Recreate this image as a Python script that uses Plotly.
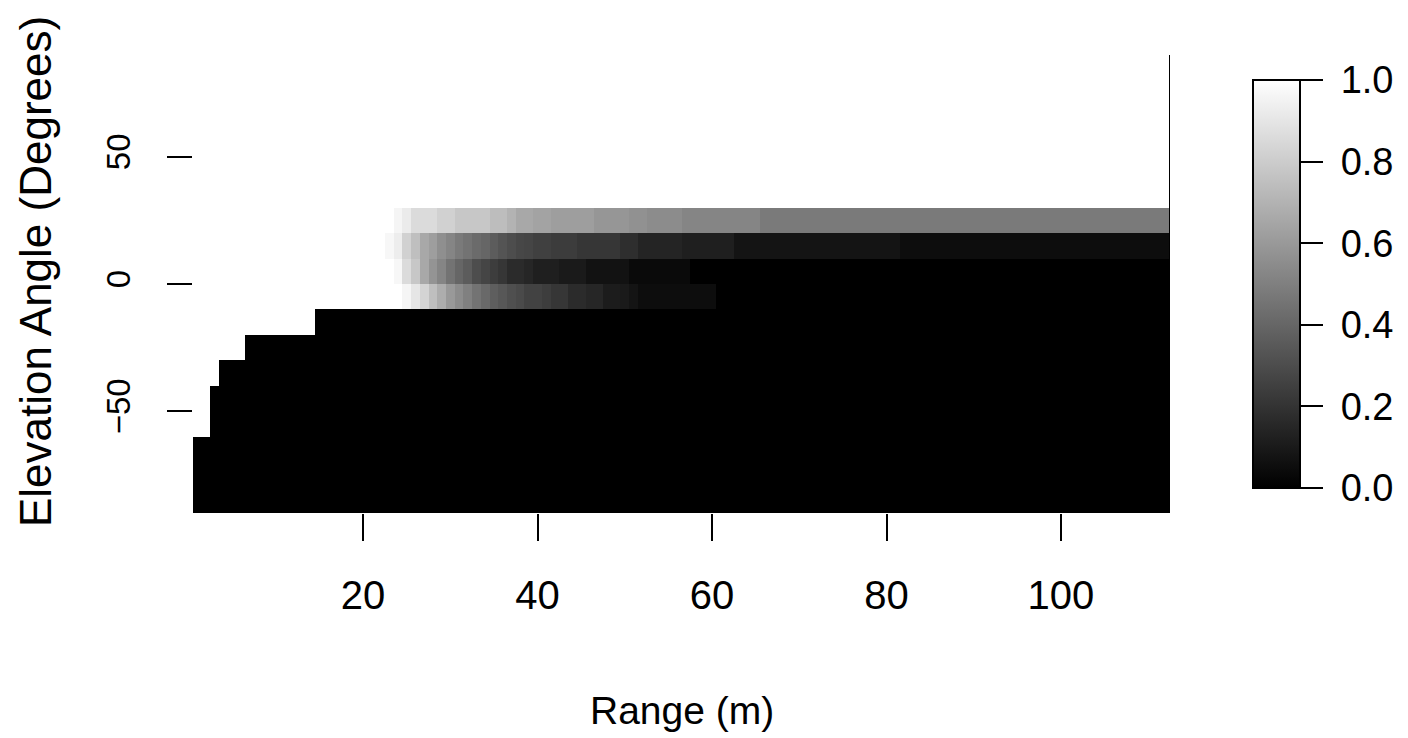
import plotly.graph_objects as go

# Grid: range bins (m) and elevation bins (degrees, centres)
range_m = list(range(1, 113))
elevation = [-85, -75, -65, -55, -45, -35, -25, -15, -5, 5, 15, 25, 35, 45, 55, 65, 75, 85]

N = None
# Elevation row 20..30 deg
row_p25 = [N, N, N, N, N, N, N, N, N, N, N, N, N, N, N, N,
           N, N, N, N, N, N, N,
           .96, .92, .86, .86, .86, .82, .82, .78, .78,
           .78, .78, .74, .74, .70, .66, .66, .64, .64, .62, .62, .62, .62, .62, .59, .59,
           .59, .59, .57, .57, .55, .55, .55, .55, .52, .52, .52, .52, .52, .52, .52, .52,
           .52,
           .48, .48, .48, .48, .48, .48, .48, .48, .48, .48, .48, .48, .48, .48, .48, .48,
           .48, .48, .48, .48, .48, .48, .48, .48, .48, .48, .48, .48, .48, .48, .48, .48,
           .48, .48, .48, .48, .48, .48, .48, .48, .48, .48, .48, .48, .48, .48, .48]
# Elevation row 10..20 deg
row_p15 = [N, N, N, N, N, N, N, N, N, N, N, N, N, N, N, N,
           N, N, N, N, N, N,
           .97, .93, .82, .75, .66, .62, .56, .52, .48, .45,
           .42, .40, .36, .33, .30, .28, .27, .25, .25, .235, .235, .235, .21, .21, .21, .21,
           .21, .18, .18, .14, .14, .14, .14, .14, .12, .12, .12, .12, .12, .12, .08, .08,
           .08, .08, .08, .08, .08, .08, .08, .08, .08, .08, .08, .08, .08, .08, .08, .08,
           .08, .05, .05, .05, .05, .05, .05, .05, .05, .05, .05, .05, .05, .05, .05, .05,
           .05, .05, .05, .05, .05, .05, .05, .05, .05, .05, .05, .05, .05, .05, .05, .05]
# Elevation row 0..10 deg
row_p5 = [N, N, N, N, N, N, N, N, N, N, N, N, N, N, N, N,
          N, N, N, N, N, N, N,
          .97, .86, .78, .66, .58, .52, .45, .40, .36,
          .30, .27, .24, .21, .17, .17, .15, .12, .12, .12, .10, .10, .10, .07, .07, .07,
          .07, .07, .04, .04, .04, .04, .04, .04, .04, 0, 0, 0, 0, 0, 0, 0,
          0, 0, 0, 0, 0, 0, 0, 0, 0, 0, 0, 0, 0, 0, 0, 0,
          0, 0, 0, 0, 0, 0, 0, 0, 0, 0, 0, 0, 0, 0, 0, 0,
          0, 0, 0, 0, 0, 0, 0, 0, 0, 0, 0, 0, 0, 0, 0, 0]
# Elevation row -10..0 deg
row_m5 = [N, N, N, N, N, N, N, N, N, N, N, N, N, N, N, N,
          N, N, N, N, N, N, N, N,
          .96, .90, .83, .75, .68, .60, .55, .50,
          .45, .41, .37, .34, .31, .29, .26, .26, .24, .21, .21, .17, .17, .15, .15, .11,
          .11, .10, .08, .05, .05, .05, .05, .05, .05, .05, .05, .05, 0, 0, 0, 0,
          0, 0, 0, 0, 0, 0, 0, 0, 0, 0, 0, 0, 0, 0, 0, 0,
          0, 0, 0, 0, 0, 0, 0, 0, 0, 0, 0, 0, 0, 0, 0, 0,
          0, 0, 0, 0, 0, 0, 0, 0, 0, 0, 0, 0, 0, 0, 0, 0]
# First range bin with data (value 0) for the low-elevation rows -85 .. -15
low_rows_first_bin = [1, 1, 1, 3, 3, 4, 7, 15]

x_ticks = [20, 40, 60, 80, 100]
y_ticks = [-50, 0, 50]
cb_ticks = [0.0, 0.2, 0.4, 0.6, 0.8, 1.0]
cb_text = ["0.0", "0.2", "0.4", "0.6", "0.8", "1.0"]

z = []
for start in low_rows_first_bin:
    z.append([0 if r >= start else None for r in range_m])
z.append(row_m5)
z.append(row_p5)
z.append(row_p15)
z.append(row_p25)
for _ in elevation[len(z):]:
    z.append([None] * len(range_m))

FONT = "Liberation Sans, Arial, Helvetica, sans-serif"

OFF = 8  # page body margin
W, H = 1400, 730
L, T = 193 - OFF, 55 - OFF
pw, ph = 977, 458
R, B = W - L - pw, H - T - ph


def px_x(page_x):
    return (page_x - OFF - L) / pw


def px_y(page_y):
    return (T + ph - (page_y - OFF)) / ph


fig = go.Figure(go.Heatmap(
    x=range_m, y=elevation, z=z,
    colorscale=[[0, "#000000"], [1, "#ffffff"]],
    zmin=0, zmax=1, zsmooth=False,
    hoverongaps=False,
    colorbar=dict(
        thickness=47, thicknessmode="pixels",
        len=408, lenmode="pixels",
        x=px_x(1253), xanchor="left", xref="paper",
        y=px_y(284), yanchor="middle",
        xpad=0, ypad=0,
        outlinewidth=2, outlinecolor="black",
        ticks="outside", ticklen=22, tickwidth=2, tickcolor="black",
        tickvals=cb_ticks, ticktext=["\u00a0" + t for t in cb_text],
        tickfont=dict(family=FONT, size=38, color="black"),
    ),
))

fig.update_layout(
    width=W, height=H,
    margin=dict(l=L, r=R, t=T, b=B, pad=0),
    paper_bgcolor="white", plot_bgcolor="white",
    xaxis=dict(
        range=[0.5, 112.5], tickvals=x_ticks, ticks="outside",
        ticklen=27, tickwidth=2, tickcolor="black",
        showline=False, showgrid=False, zeroline=False,
        tickfont=dict(family=FONT, size=40, color="black"),
        ticklabelstandoff=20,
    ),
    yaxis=dict(
        range=[-90, 90], tickvals=y_ticks, ticks="outside",
        ticklen=25, tickwidth=2, tickcolor="black", tickangle=-90,
        showline=False, showgrid=False, zeroline=False,
        tickfont=dict(family=FONT, size=33, color="black"),
        ticklabelstandoff=24,
    ),
    shapes=[dict(type="line", xref="x", yref="paper", x0=112.5, x1=112.5,
                 y0=0, y1=1, line=dict(color="black", width=2))],
    annotations=[
        dict(text="Range (m)", xref="paper", yref="paper",
             x=0.5, y=px_y(710), xanchor="center", yanchor="middle",
             showarrow=False, font=dict(family=FONT, size=39, color="black")),
        dict(text="Elevation Angle (Degrees)", xref="paper", yref="paper",
             x=px_x(35), y=px_y(272), xanchor="center", yanchor="middle",
             textangle=-90, showarrow=False,
             font=dict(family=FONT, size=44, color="black")),
    ],
)

fig.write_html("out.html")
